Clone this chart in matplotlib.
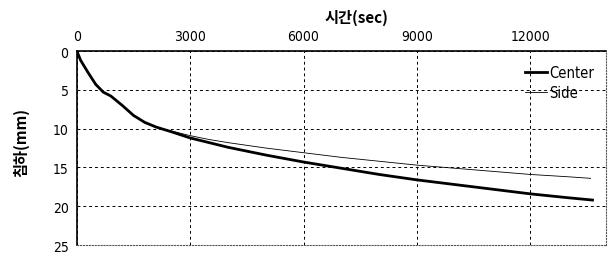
import matplotlib
matplotlib.use("Agg")
import matplotlib.pyplot as plt

plt.rcParams['font.family'] = ['DejaVu Sans']
plt.rcParams['font.stretch'] = 'condensed'

# ---------------------------------------------------------
# Data
# ---------------------------------------------------------
center_t = [0, 100, 300, 500, 700, 900, 1200, 1500, 1800, 2100, 2500, 3000,
            3500, 4000, 5000, 6000, 7000, 8000, 9000, 10000, 11000, 12000,
            13000, 13650]
center_y = [0, 1.2, 2.8, 4.3, 5.3, 5.8, 7.0, 8.3, 9.2, 9.8, 10.4, 11.2,
            11.8, 12.4, 13.4, 14.3, 15.1, 15.9, 16.6, 17.2, 17.8, 18.4,
            18.9, 19.2]

side_t = [0, 100, 300, 500, 700, 900, 1200, 1500, 1800, 2100, 2500, 3000,
          3500, 4000, 5000, 6000, 7000, 8000, 9000, 10000, 11000, 12000,
          13000, 13600]
side_y = [0, 1.2, 2.8, 4.3, 5.3, 5.8, 7.0, 8.3, 9.2, 9.8, 10.3, 10.9,
          11.4, 11.8, 12.5, 13.1, 13.7, 14.2, 14.7, 15.1, 15.5, 15.9,
          16.2, 16.4]

x_ticks = [0, 3000, 6000, 9000, 12000]
y_ticks = [0, 5, 10, 15, 20, 25]

# ---------------------------------------------------------
# Plot
# ---------------------------------------------------------
fig = plt.figure(figsize=(6.1, 2.55), dpi=100)
ax = fig.add_axes([0.126, 0.035, 0.867, 0.761])

ax.plot(center_t, center_y, color="black", lw=2.0, label="Center")
ax.plot(side_t, side_y, color="black", lw=0.6, label="Side")

ax.set_xlim(0, 14000)
ax.set_ylim(25, 0)
ax.set_xticks(x_ticks)
ax.set_yticks(y_ticks)
ax.xaxis.tick_top()
ax.tick_params(axis="both", length=0, labelsize=10, pad=6)
ax.grid(True, color="black", linestyle=(0, (3, 3)), lw=0.7)

for side in ["top", "left"]:
    ax.spines[side].set_linewidth(1.2)
for side in ["bottom", "right"]:
    ax.spines[side].set_linestyle(":")
    ax.spines[side].set_color("#555555")

fig.text(0.585, 0.93, "시간(sec)", fontsize=11, fontweight="bold",
         ha="center", va="center", family=["Noto Sans CJK KR", "DejaVu Sans"])
fig.text(0.035, 0.44, "침하(mm)", fontsize=11, fontweight="bold",
         rotation=90, ha="center", va="center",
         family=["Noto Sans CJK KR", "DejaVu Sans"])

ax.legend(loc="upper right", frameon=False, fontsize=10.5, handlelength=1.5,
          handletextpad=0.2, labelspacing=0.35,
          bbox_to_anchor=(0.995, 0.975), borderaxespad=0.2)

fig.savefig("out.png", dpi=100)
